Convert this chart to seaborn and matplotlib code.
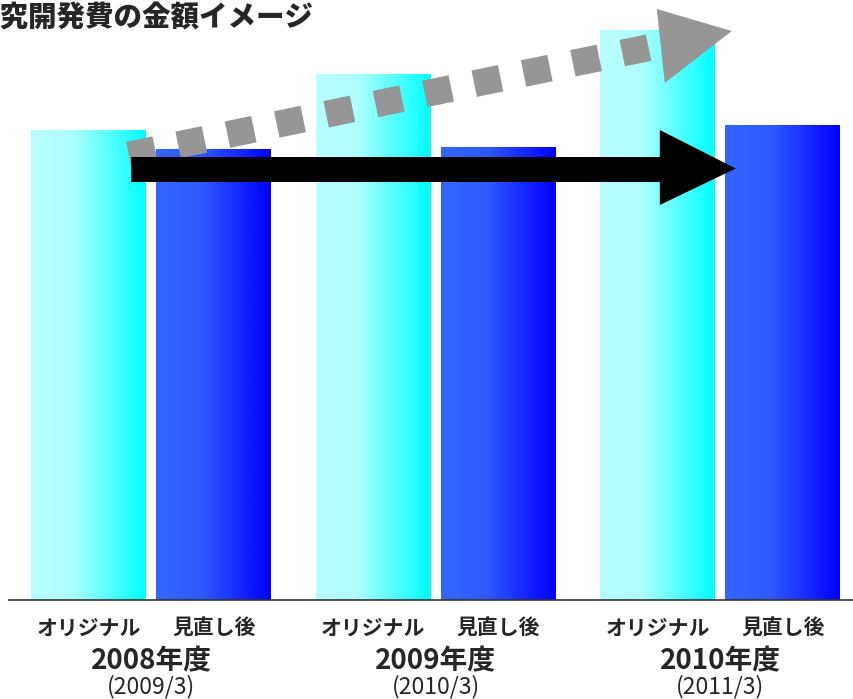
import matplotlib
matplotlib.use("Agg")
import matplotlib.pyplot as plt
from matplotlib.colors import LinearSegmentedColormap
from matplotlib.patches import Polygon
import numpy as np
import pandas as pd
import seaborn as sns

# ---- data -------------------------------------------------------------
years = ["2008年度", "2009年度", "2010年度"]
periods = ["(2009/3)", "(2010/3)", "(2011/3)"]
kinds = ["オリジナル", "見直し後"]
original = [470, 526, 570]
revised = [451, 453, 475]
title = "研究開発費の金額イメージ"

df = pd.DataFrame({
    "year": years * 2,
    "kind": [kinds[0]] * 3 + [kinds[1]] * 3,
    "value": original + revised,
})

# ---- style ------------------------------------------------------------
sns.set_style("white")
plt.rcParams["font.family"] = ["Noto Sans CJK JP", "DejaVu Sans"]

fig = plt.figure(figsize=(8.54, 6.99), dpi=100)
ax = fig.add_axes([9 / 854, 99 / 699, 1 - 9 / 854, 600 / 699])

sns.barplot(data=df, x="year", y="value", hue="kind", hue_order=kinds,
            order=years, width=0.878, gap=0.08, ax=ax, legend=False,
            palette=["#00ffff", "#0000ff"], saturation=1, errorbar=None)

# horizontal gradient fill for every bar
cmaps = {
    kinds[0]: LinearSegmentedColormap.from_list(
        "orig", [(0, "#b8ffff"), (0.35, "#b0ffff"), (1, "#00ffff")]),
    kinds[1]: LinearSegmentedColormap.from_list(
        "rev", [(0, "#3366ff"), (0.4, "#2e5aff"), (1, "#0000ff")]),
}
grad = np.linspace(0, 1, 256).reshape(1, -1)
centers, labels = [], []
bars = list(ax.patches)
for i, p in enumerate(bars):
    kind = kinds[i // len(years)]
    x0, w, h = p.get_x(), p.get_width(), p.get_height()
    p.set_facecolor("none")
    p.set_edgecolor("none")
    im = ax.imshow(grad, cmap=cmaps[kind], aspect="auto",
                   extent=(x0, x0 + w, 0, h), zorder=1)
    im.set_clip_path(p)
    centers.append(x0 + w / 2)
    labels.append(kind)

# ---- trend arrows -----------------------------------------------------
# dashed grey arrow (rising plan)
ax.plot([-0.0790, 1.7770], [445, 554], color="#969696", lw=19.4,
        dashes=(1, 0.87), solid_capstyle="butt", dash_capstyle="butt",
        zorder=3)
ax.add_patch(Polygon([(1.7767, 591), (2.0404, 569), (1.8051, 517)],
                     closed=True, fc="#969696", ec="none", zorder=3,
                     clip_on=False))
# solid black arrow (flat after review)
ax.add_patch(Polygon([(-0.0702, 443), (1.7875, 443), (1.7875, 470),
                      (2.0544, 431.5), (1.7875, 395), (1.7875, 418),
                      (-0.0702, 418)],
                     closed=True, fc="black", ec="none", zorder=4))

# ---- axes -------------------------------------------------------------
for s in ["left", "top", "right"]:
    ax.spines[s].set_visible(False)
ax.spines["bottom"].set_color("#333333")
ax.spines["bottom"].set_linewidth(1.2)
ax.set_yticks([])
ax.set_xticks(centers)
ax.set_xticklabels(labels, fontsize=15, fontweight="bold")
ax.tick_params(axis="x", which="major", length=0, pad=13)
ax.set_xticks([-0.5, 0.5, 1.5], minor=True)
ax.tick_params(axis="x", which="minor", direction="in", length=6,
               width=1.2, color="#333333")
ax.set_xlabel("")
ax.set_ylabel("")
ax.set_xlim(-0.5, 2.47)
ax.set_ylim(0, 600)

for i, (yr, pr) in enumerate(zip(years, periods)):
    ax.text(i, -61, yr, ha="center", va="center", fontsize=20,
            fontweight="bold", clip_on=False)
    ax.text(i, -87, pr, ha="center", va="center", fontsize=16.5,
            clip_on=False)

fig.text(-28.6 / 854, 1 - 18 / 699, title, ha="left", va="center",
         fontsize=20.5, fontweight="heavy")

fig.savefig("out.png", dpi=100)
